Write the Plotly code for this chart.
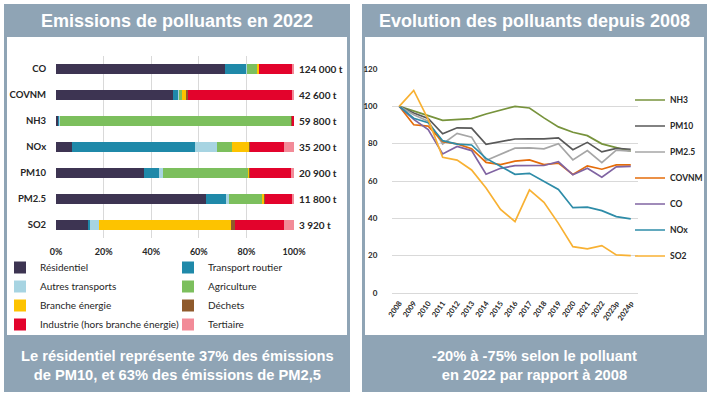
import plotly.graph_objects as go

W, H = 712, 398

# ---------------- Left chart data (share of emissions, %) ----------------
pollutants = ["CO", "COVNM", "NH3", "NOx", "PM10", "PM2.5", "SO2"]
totals = ["124 000 t", "42 600 t", "59 800 t", "35 200 t", "20 900 t", "11 800 t", "3 920 t"]

sectors = ["Résidentiel", "Transport routier", "Autres transports", "Agriculture",
           "Branche énergie", "Déchets", "Industrie (hors branche énergie)", "Tertiaire"]
sector_colors = ["#3d3452", "#1f89a9", "#a7d4e2", "#7cbf5d",
                 "#fdc300", "#8f5a2c", "#e3032c", "#f28b98"]

residentiel       = [70.8, 49.2, 0.7, 6.9, 36.8, 63.0, 13.7]
transport_routier = [9.1, 2.2, 0.9, 51.6, 6.6, 8.4, 0.7]
autres_transports = [0.3, 0.4, 0.1, 9.1, 1.4, 1.1, 3.5]
agriculture       = [4.2, 1.0, 97.1, 6.4, 35.9, 14.3, 0.0]
branche_energie   = [1.1, 2.1, 0.0, 7.4, 0.7, 0.7, 55.7]
dechets           = [0.0, 0.4, 0.4, 0.1, 0.2, 0.2, 1.4]
industrie         = [14.0, 43.8, 0.8, 14.5, 17.2, 11.6, 20.6]
tertiaire         = [0.5, 0.9, 0.0, 4.0, 1.2, 0.7, 4.4]
sector_values = [residentiel, transport_routier, autres_transports, agriculture,
                 branche_energie, dechets, industrie, tertiaire]
pct_ticks = [0, 20, 40, 60, 80, 100]
pct_labels = ["0%", "20%", "40%", "60%", "80%", "100%"]

# ---------------- Right chart data (index 2008 = 100) ----------------
years = ["2008", "2009", "2010", "2011", "2012", "2013", "2014", "2015", "2016",
         "2017", "2018", "2019", "2020", "2021", "2022", "2023p", "2024p"]
nh3   = [100, 97.3, 95.0, 92.5, 92.9, 93.4, 95.9, 97.9, 100.0, 99.1, 93.8, 89.0, 86.1, 84.3, 79.9, 77.9, 76.0]
pm10  = [100, 96.4, 93.5, 85.3, 88.5, 88.3, 79.7, 81.3, 82.5, 82.6, 82.6, 83.1, 76.8, 80.7, 75.6, 77.5, 77.0]
pm25  = [100, 95.5, 92.0, 79.8, 85.5, 83.5, 71.0, 74.5, 77.6, 77.7, 77.2, 80.0, 71.3, 76.3, 69.8, 76.5, 76.0]
covnm = [100, 90.1, 89.4, 81.1, 79.9, 77.3, 70.0, 68.8, 70.6, 71.3, 68.8, 69.6, 63.5, 68.1, 66.3, 68.6, 68.6]
co    = [100, 93.0, 87.5, 74.5, 78.5, 76.3, 63.6, 66.8, 68.2, 68.2, 68.3, 70.3, 63.3, 66.8, 62.0, 67.6, 67.8]
nox   = [100, 93.6, 91.2, 81.6, 79.8, 79.3, 72.1, 68.0, 63.6, 64.1, 59.6, 55.5, 45.7, 46.0, 44.1, 40.9, 39.7]
so2   = [100, 108.5, 93.0, 72.7, 71.2, 65.9, 56.3, 44.8, 38.2, 55.2, 48.6, 37.3, 24.8, 23.6, 25.4, 20.4, 20.0]
series_names = ["NH3", "PM10", "PM2.5", "COVNM", "CO", "NOx", "SO2"]
series_values = [nh3, pm10, pm25, covnm, co, nox, so2]
series_colors = ["#77933c", "#595959", "#a6a6a6", "#e46c0a", "#8064a2", "#2e8ca8", "#f8b133"]
idx_ticks = [0, 20, 40, 60, 80, 100, 120]

titles = ["Emissions de polluants en 2022", "Evolution des polluants depuis 2008"]
footers = ["Le résidentiel représente 37% des émissions<br>de PM10, et 63% des émissions de PM2,5",
           "-20% à -75% selon le polluant<br>en 2022 par rapport à 2008"]

PANEL = "#8fa4b5"
TXT = "#262626"
SMALL = "Lato, Liberation Sans, sans-serif"
BIG = "Liberation Sans, Arial, sans-serif"


def px(x):
    return x / W


def py(y):
    return 1 - y / H


fig = go.Figure()

for i, (name, vals, col) in enumerate(zip(sectors, sector_values, sector_colors)):
    fig.add_trace(go.Bar(
        x=vals, y=pollutants, orientation="h", name=name,
        marker=dict(color=col, line=dict(width=0)),
        xaxis="x", yaxis="y",
        legend="legend2" if i % 2 == 0 else "legend3",
        hoverinfo="skip",
    ))

for k, (name, vals, col) in enumerate(zip(series_names, series_values, series_colors)):
    fig.add_trace(go.Scatter(
        x=years, y=vals, mode="lines", name=name,
        line=dict(color=col, width=1.7),
        xaxis="x2", yaxis="y2", legend="legend", legendgroup=name,
        hoverinfo="skip",
    ))

# value labels to the right of bars
for p, t in zip(pollutants, totals):
    fig.add_annotation(x=1, xref="x domain", y=p, yref="y", text=t,
                       showarrow=False, xanchor="left", xshift=3,
                       font=dict(family=SMALL, size=10, color=TXT, weight="bold"))

shapes = []
for (x0, x1) in [(4, 350), (362, 707)]:
    shapes.append(dict(type="rect", xref="paper", yref="paper", layer="below",
                       x0=px(x0), x1=px(x1), y0=py(392), y1=py(4),
                       fillcolor=PANEL, line=dict(width=0)))
    shapes.append(dict(type="rect", xref="paper", yref="paper", layer="below",
                       x0=px(x0 + 3), x1=px(x1 - 3), y0=py(335), y1=py(37),
                       fillcolor="white", line=dict(width=0)))

for cx, title, foot in zip([177, 534.5], titles, footers):
    fig.add_annotation(x=px(cx), y=py(21), xref="paper", yref="paper", text=title,
                       showarrow=False, xanchor="center", yanchor="middle",
                       font=dict(family=BIG, size=18, color="white", weight="bold"))
    fig.add_annotation(x=px(cx), y=py(365), xref="paper", yref="paper", text=foot,
                       showarrow=False, xanchor="center", yanchor="middle",
                       font=dict(family=BIG, size=14.7, color="white", weight="bold"))

fig.update_layout(
    width=W, height=H,
    margin=dict(l=0, r=0, t=0, b=0, autoexpand=False),
    paper_bgcolor="white", plot_bgcolor="rgba(0,0,0,0)",
    barmode="stack", bargap=0.6,
    shapes=shapes,
    xaxis=dict(domain=[px(56), px(294)], range=[0, 100], tickvals=pct_ticks,
               ticktext=pct_labels, showgrid=True, gridcolor="#d9d9d9", gridwidth=1,
               zeroline=False, showline=False, ticks="outside", ticklen=5,
               tickcolor="rgba(0,0,0,0)",
               tickfont=dict(family=SMALL, size=9, color=TXT, weight="bold"),
               anchor="y", fixedrange=True),
    yaxis=dict(domain=[py(238), py(56)], type="category", categoryorder="array",
               categoryarray=pollutants, range=[6.5, -0.5], showgrid=False,
               zeroline=False, showline=False, ticks="outside", ticklen=7,
               tickcolor="rgba(0,0,0,0)",
               tickfont=dict(family=SMALL, size=9.5, color=TXT, weight="bold"),
               anchor="x", fixedrange=True),
    xaxis2=dict(domain=[px(392), px(638)], type="category", range=[-0.5, 16.5],
                showgrid=False, zeroline=False, showline=False, tickangle=-55,
                ticks="outside", ticklen=2, tickcolor="rgba(0,0,0,0)",
                tickfont=dict(family=SMALL, size=7.5, color=TXT, weight="bold"),
                anchor="y2", fixedrange=True),
    yaxis2=dict(domain=[py(293), py(69)], range=[0, 120], tickvals=idx_ticks,
                showgrid=True, gridcolor="#d9d9d9", gridwidth=1,
                zeroline=True, zerolinecolor="#d9d9d9", zerolinewidth=1,
                showline=False, ticks="outside", ticklen=12,
                tickcolor="rgba(0,0,0,0)",
                tickfont=dict(family=SMALL, size=8, color=TXT, weight="bold"),
                anchor="x2", fixedrange=True),
    legend=dict(x=px(630), y=py(85.5), xanchor="left", yanchor="top",
                orientation="v", traceorder="grouped", tracegroupgap=7,
                bgcolor="rgba(0,0,0,0)", borderwidth=0,
                font=dict(family=SMALL, size=8.5, color=TXT, weight="bold")),
    legend2=dict(x=0, y=py(253), xanchor="left", yanchor="top",
                 orientation="v", traceorder="normal",
                 bgcolor="rgba(0,0,0,0)", borderwidth=0,
                 font=dict(family=SMALL, size=10, color=TXT)),
    legend3=dict(x=px(168), y=py(253), xanchor="left", yanchor="top",
                 orientation="v", traceorder="normal",
                 bgcolor="rgba(0,0,0,0)", borderwidth=0,
                 font=dict(family=SMALL, size=10, color=TXT)),
    showlegend=True,
)

# the page's default 8px body margin would offset the 712x398 figure
fig.write_html("out.html", config={"displayModeBar": False},
               post_script="document.body.style.margin='0';")
